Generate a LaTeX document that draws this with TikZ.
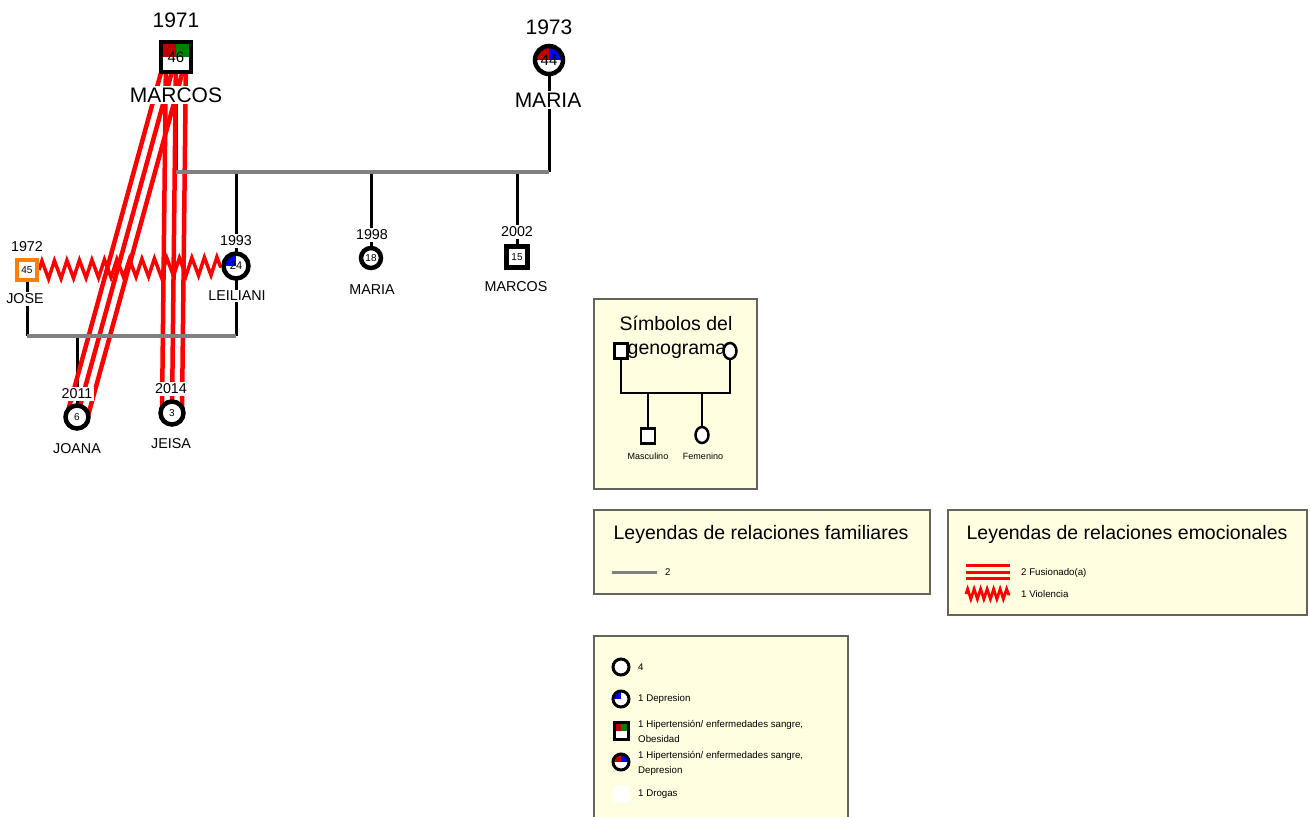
\documentclass[tikz,border=0pt]{standalone}
\usepackage{fontspec}
\setmainfont{Liberation Sans}
\usetikzlibrary{backgrounds,decorations.pathmorphing,calc,shapes.geometric}
\definecolor{legfill}{RGB}{255,254,224}
\definecolor{legdraw}{RGB}{100,100,90}
\definecolor{linegray}{RGB}{128,128,128}
\definecolor{qred}{RGB}{192,0,0}
\definecolor{qgreen}{RGB}{0,128,0}
\definecolor{qblue}{RGB}{0,0,255}
\definecolor{orangeb}{RGB}{255,128,0}
\begin{document}
\begin{tikzpicture}[x=1pt,y=-1pt,
  male/.style={rectangle, draw=black, line width=4.5pt, fill=white, inner sep=0pt},
  fem/.style={circle, draw=black, line width=4.5pt, fill=white, inner sep=0pt},
  quadTL/.style={path picture={\fill[#1] (path picture bounding box.center) rectangle (path picture bounding box.north west);}},
  quadTwo/.style 2 args={path picture={\fill[#1] (path picture bounding box.center) rectangle (path picture bounding box.north west); \fill[#2] (path picture bounding box.center) rectangle (path picture bounding box.north east);}},
  tbig/.style={font=\fontsize{21}{24}\selectfont, inner sep=2pt},
  tmed/.style={font=\fontsize{14.3}{16}\selectfont, inner sep=1.5pt},
  tnum/.style={font=\fontsize{10}{12}\selectfont},
  tlegt/.style={font=\fontsize{19.5}{23}\selectfont, inner sep=1pt},
  tlegs/.style={font=\fontsize{9.7}{15}\selectfont, inner sep=1pt, align=left},
  blackline/.style={draw=black, line width=3pt},
  grayline/.style={draw=linegray, line width=4pt},
  fusion/.style={draw=red, line width=4.5pt},
  violence/.style={draw=red, line width=3.5pt, decorate, decoration={zigzag, segment length=12.5pt, amplitude=9pt}},
  legbox/.style={draw=legdraw, line width=1.5pt, fill=legfill},
  minisym/.style={draw=black, line width=2.5pt, fill=white, inner sep=0pt}
]
\useasboundingbox (0,0) rectangle (1310,817);

% ---------------- people ----------------
\node[male, minimum size=30pt, quadTwo={qred}{qgreen}, font=\fontsize{15}{15}\selectfont] (marcos) at (176,57) {46};
\node[tbig] (marcosY) at (176,20) {1971};
\node[tbig, fill=white] (marcosN) at (176,95) {MARCOS};

\node[fem, minimum size=28pt, quadTwo={qred}{qblue}, font=\fontsize{15}{15}\selectfont] (maria) at (549,60) {44};
\node[tbig] (mariaY) at (549,27) {1973};
\node[tbig, fill=white] (mariaN) at (548,100) {MARIA};

\node[fem, minimum size=25pt, quadTL=qblue, font=\fontsize{11}{12}\selectfont] (leil) at (236,266) {24};
\node[tmed, fill=white] (leilY) at (236,241) {1993};
\node[tmed, fill=white] (leilN) at (237,296) {LEILIANI};

\node[male, draw=orangeb, minimum size=20pt, line width=4pt, tnum] (jose) at (27,270) {45};
\node[tmed] (joseY) at (27,247) {1972};
\node[tmed, fill=white] (joseN) at (25,299) {JOSE};

\node[fem, minimum size=23pt, tnum] (joana) at (77,417) {6};
\node[tmed, fill=white] (joanaY) at (77,394) {2011};
\node[tmed, fill=white] (joanaN) at (77,449) {JOANA};

\node[fem, minimum size=23pt, tnum] (jeisa) at (172,413) {3};
\node[tmed, fill=white] (jeisaY) at (171,389) {2014};
\node[tmed, fill=white] (jeisaN) at (171,444) {JEISA};

\node[fem, minimum size=20pt, tnum] (maria98) at (371,258) {18};
\node[tmed, fill=white] (maria98Y) at (372,235) {1998};
\node[tmed, fill=white] (maria98N) at (372,290) {MARIA};

\node[male, minimum size=21pt, tnum] (marcos02) at (517,257) {15};
\node[tmed, fill=white] (marcos02Y) at (517,232) {2002};
\node[tmed, fill=white] (marcos02N) at (516,287) {MARCOS};

% ---------------- connectors ----------------
\coordinate (cm) at (176,172);
\coordinate (cf) at (549,172);
\coordinate (d93) at (236,172);
\coordinate (d98) at (371,172);
\coordinate (d02) at (517,172);
\coordinate (lj) at (27,336);
\coordinate (ll) at (236,336);
\coordinate (d11) at (77,336);
\coordinate (d14) at (172,336);

\begin{scope}[on background layer]
  \draw[blackline] (marcos.center) -- (cm);
  \draw[blackline] (maria.center) -- (cf);
  \draw[blackline] (d93) -- (leil.center);
  \draw[blackline] (d98) -- (maria98.center);
  \draw[blackline] (d02) -- (marcos02.center);
  \draw[blackline] (jose.center) -- (lj);
  \draw[blackline] (leil.center) -- (ll);
  \draw[blackline] (d11) -- (joana.center);
  \draw[blackline] (d14) -- (jeisa.center);
  % fusion (triple) lines
  \foreach \o in {-1,0,1} {
    \draw[fusion] ($(marcos.center)+(\o*9.9,\o*2.75)$) -- ($(joana.center)+(\o*9.9,\o*2.75)$);
    \draw[fusion] ($(marcos.center)+(\o*10,0)$) -- ($(jeisa.center)+(\o*10,0)$);
  }
  \draw[grayline] (cm) -- (cf);
  \draw[grayline] (lj) -- (ll);
  \draw[violence] (jose.east) -- (leil.west);
\end{scope}

% ---------------- legend: symbols ----------------
\draw[legbox] (594,299) rectangle (757,489);
\node[tlegt] (symT1) at (676,323) {Símbolos del};
\node[tlegt] (symT2) at (677,351) {genograma};
\node[minisym, minimum width=13pt, minimum height=15pt] (lm) at (621,351) {};
\node[minisym, ellipse, minimum width=13pt, minimum height=16pt] (lf) at (730,351) {};
\coordinate (la) at (621,393);
\coordinate (lb) at (730,393);
\coordinate (lc1) at (648,393);
\coordinate (lc2) at (702,393);
\draw[draw=black, line width=2.5pt] (lm) -- (la) -- (lb) -- (lf);
\node[minisym, minimum width=14pt, minimum height=15pt] (lmc) at (648,436) {};
\node[minisym, ellipse, minimum width=13pt, minimum height=16pt] (lfc) at (702,435) {};
\draw[draw=black, line width=2.5pt] (lc1) -- (lmc);
\draw[draw=black, line width=2.5pt] (lc2) -- (lfc);
\node[tlegs, font=\fontsize{9}{11}\selectfont] (lmT) at (648,456) {Masculino};
\node[tlegs, font=\fontsize{9}{11}\selectfont] (lfT) at (703,456) {Femenino};

% ---------------- legend: family relations ----------------
\draw[legbox] (594,510) rectangle (930,594);
\node[tlegt] (famT) at (761,534) {Leyendas de relaciones familiares};
\coordinate (fg1) at (612,572);
\coordinate (fg2) at (657,572);
\draw[draw=linegray, line width=3pt] (fg1) -- (fg2);
\node[tlegs, anchor=west] (famL) at (664,572) {2};

% ---------------- legend: emotional relations ----------------
\draw[legbox] (948,510) rectangle (1307,615);
\node[tlegt] (emoT) at (1127,534) {Leyendas de relaciones emocionales};
\coordinate (ef1) at (966,572);
\coordinate (ef2) at (1010,572);
\foreach \o in {-6.5,0,6.5} {
  \draw[draw=red, line width=3pt] ($(ef1)+(0,\o)$) -- ($(ef2)+(0,\o)$);
}
\node[tlegs, anchor=west] (emoF) at (1020,573) {2 Fusionado(a)};
\coordinate (ev1) at (966,594);
\coordinate (ev2) at (1010,594);
\draw[draw=red, line width=2.8pt, decorate, decoration={zigzag, segment length=6.5pt, amplitude=5pt}] (ev1) -- (ev2);
\node[tlegs, anchor=west] (emoV) at (1020,594) {1 Violencia};

% ---------------- legend: conditions ----------------
\draw[legbox] (594,636) rectangle (848,825);
\node[fem, line width=3pt, minimum size=16pt] (c1) at (621,667) {};
\node[tlegs, anchor=west] (c1T) at (637,667) {4};
\node[fem, line width=3pt, minimum size=16pt, quadTL=qblue] (c2) at (621,699) {};
\node[tlegs, anchor=west] (c2T) at (637,699) {1 Depresion};
\node[male, line width=3pt, minimum width=14pt, minimum height=17pt, quadTwo={qred}{qgreen}] (c3) at (621,731) {};
\node[tlegs, anchor=west] (c3T) at (637,731) {1 Hipertensión/ enfermedades sangre,\\Obesidad};
\node[fem, line width=3pt, minimum size=16pt, quadTwo={qred}{qblue}] (c4) at (621,762) {};
\node[tlegs, anchor=west] (c4T) at (637,763) {1 Hipertensión/ enfermedades sangre,\\Depresion};
\node[fill=white, minimum size=16pt, inner sep=0pt] (c5) at (621,794) {};
\node[tlegs, anchor=west] (c5T) at (637,794) {1 Drogas};
\end{tikzpicture}
\end{document}
